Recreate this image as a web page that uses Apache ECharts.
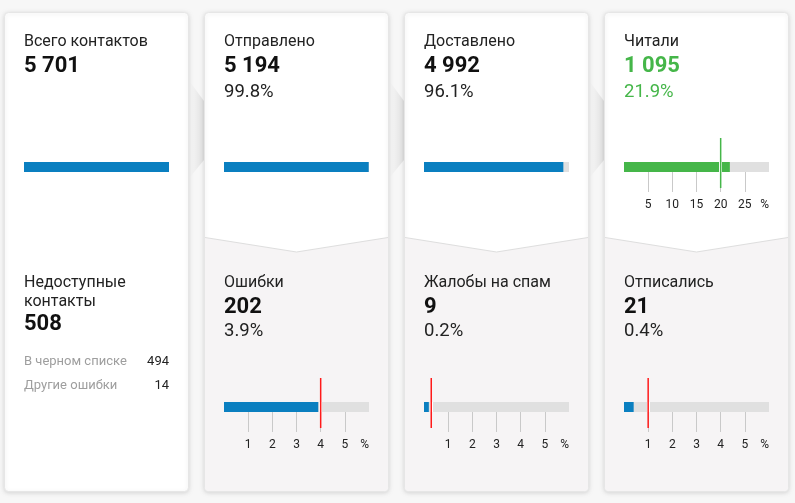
<!DOCTYPE html>
<html><head><meta charset="utf-8">
<script src="https://cdn.jsdelivr.net/npm/echarts@6/dist/echarts.min.js"></script>
<style>html,body{margin:0;padding:0;background:#f7f7f7}#c{width:795px;height:503px}</style>
</head><body><div id="c"></div>
<script>
// ---- data ----
const stageTitles = ['Всего контактов', 'Отправлено', 'Доставлено', 'Читали'];
const stageCounts = [5701, 5194, 4992, 1095];
const stagePercents = [null, 99.8, 96.1, 21.9];
const readBenchmark = 20;
const readTicks = [5, 10, 15, 20, 25];
const readAxisMax = 30;

const issueTitles = ['Ошибки', 'Жалобы на спам', 'Отписались'];
const issueCounts = [202, 9, 21];
const issuePercents = [3.9, 0.2, 0.4];
const issueBenchmarks = [4, 0.3, 1];
const issueTicks = [1, 2, 3, 4, 5];
const issueAxisMax = 6;

const unavailableTitle = ['Недоступные', 'контакты'];
const unavailableTotal = 508;
const breakdownLabels = ['В черном списке', 'Другие ошибки'];
const breakdownValues = [494, 14];

// ---- layout / style ----
const FONT = 'Roboto';
const BLUE = '#0a7fc0', GREEN = '#45b649', RED = '#ff1a1a', TRACK = '#e0e0e0';
const cardLeft = [4, 204, 404, 604], cardW = 185, cardTop = 12, cardBottom = 492;
const fmt = n => String(n).replace(/\B(?=(\d{3})+(?!\d))/g, ' ');
const pct = p => p.toFixed(1) + '%';

const grids = [], xAxes = [], yAxes = [], series = [], graphics = [];

function addBar(o) {
  const gi = grids.length;
  grids.push({left: o.left, top: o.top, width: 145, height: 10});
  const hasTicks = !!o.ticks;
  xAxes.push({
    type: 'value', gridIndex: gi, min: 0, max: o.max, z: 8,
    splitLine: {show: false}, axisLine: {show: false},
    axisTick: hasTicks ? {show: true, customValues: o.ticks, length: 20, lineStyle: {color: '#c9c9c9', width: 1}} : {show: false},
    axisLabel: hasTicks ? {
      show: true, customValues: o.ticks.concat([o.max]),
      formatter: v => v === o.max ? '%' : String(v),
      margin: 27, color: '#222', fontSize: 12, fontFamily: FONT, alignMaxLabel: 'right'
    } : {show: false}
  });
  yAxes.push({type: 'category', gridIndex: gi, data: [''], show: false});
  const s = {
    type: 'bar', xAxisIndex: gi, yAxisIndex: gi, data: [o.value], barWidth: 10,
    itemStyle: {color: o.color}, showBackground: o.track !== false,
    backgroundStyle: {color: TRACK}, silent: true, animation: false, z: 3
  };
  if (o.marker != null) {
    s.markLine = {silent: true, symbol: 'none', label: {show: false}, animation: false,
      lineStyle: {color: '#fff', width: 3, type: 'solid'}, data: [{xAxis: o.marker}]};
    const mi = grids.length;
    grids.push({left: o.left, top: o.top - 24, width: 145, height: 50});
    xAxes.push({type: 'value', gridIndex: mi, min: 0, max: o.max, show: false});
    yAxes.push({type: 'value', gridIndex: mi, min: 0, max: 1, show: false});
    series.push({type: 'line', xAxisIndex: mi, yAxisIndex: mi, data: [[o.marker, 0], [o.marker, 1]],
      symbol: 'none', lineStyle: {color: o.markerColor, width: 1.5}, z: 9, silent: true, animation: false});
  }
  series.push(s);
}

function text(t, x, y, size, color, weight, align) {
  graphics.push({type: 'text', z: 20, silent: true, style: {
    text: t, x: x, y: y, fill: color, align: align || 'left', verticalAlign: 'middle',
    font: (weight || 'normal') + ' ' + size + 'px ' + FONT
  }});
}

// gap chevron shadows
for (let i = 0; i < 3; i++) {
  const xL = cardLeft[i] + cardW, xR = cardLeft[i + 1];
  graphics.push({type: 'polygon', z: 0, silent: true,
    shape: {points: [[xL + 1, 82], [xR, 101], [xR, 160], [xL + 1, 177]]},
    style: {fill: new echarts.graphic.LinearGradient(0, 0, 1, 0, [
      {offset: 0, color: 'rgba(0,0,0,0.0)'}, {offset: 1, color: 'rgba(0,0,0,0.09)'}])}});
}

// cards
cardLeft.forEach((L, i) => {
  graphics.push({type: 'rect', z: 1, silent: true,
    shape: {x: L + 0.5, y: cardTop + 0.5, width: cardW - 1, height: cardBottom - cardTop - 1, r: 4},
    style: {fill: '#fff', stroke: '#e6e6e6', lineWidth: 1,
      shadowBlur: 4, shadowColor: 'rgba(0,0,0,0.13)', shadowOffsetY: 1}});
  if (i > 0) {
    graphics.push({type: 'rect', z: 2, silent: true,
      shape: {x: L + 1, y: 238, width: cardW - 2, height: cardBottom - 238 - 1, r: [0, 0, 4, 4]},
      style: {fill: '#f6f4f5'}});
    graphics.push({type: 'polygon', z: 2, silent: true,
      shape: {points: [[L + 1, 237.5], [L + cardW / 2, 252], [L + cardW - 1, 237.5]]},
      style: {fill: '#fff'}});
    graphics.push({type: 'polyline', z: 2, silent: true,
      shape: {points: [[L + 1, 237.5], [L + cardW / 2, 252], [L + cardW - 1, 237.5]]},
      style: {stroke: '#dedede', lineWidth: 1, fill: null}});
  }
});

// top row texts + bars
stageTitles.forEach((t, i) => {
  const x = cardLeft[i] + 20;
  const col = i === 3 ? GREEN : '#111';
  text(t, x, 42, 16, '#222');
  text(fmt(stageCounts[i]), x, 66.5, 22, col, 'bold');
  if (stagePercents[i] != null) text(pct(stagePercents[i]), x, 92, 18.5, i === 3 ? GREEN : '#222');
});
addBar({left: cardLeft[0] + 20, top: 162, max: stageCounts[0], value: stageCounts[0], color: BLUE, track: false});
addBar({left: cardLeft[1] + 20, top: 162, max: 100, value: stagePercents[1], color: BLUE});
addBar({left: cardLeft[2] + 20, top: 162, max: 100, value: stagePercents[2], color: BLUE});
addBar({left: cardLeft[3] + 20, top: 162, max: readAxisMax, value: stagePercents[3], color: GREEN,
  ticks: readTicks, marker: readBenchmark, markerColor: GREEN});

// card 1 lower
text(unavailableTitle[0], 24, 282.5, 16, '#222');
text(unavailableTitle[1], 24, 301.5, 16, '#222');
text(fmt(unavailableTotal), 24, 324.5, 22, '#111', 'bold');
breakdownLabels.forEach((l, k) => {
  const y = 362 + k * 23.5;
  text(l, 24, y, 13, '#9e9e9e');
  text(String(breakdownValues[k]), 169, y, 13, '#222', 'normal', 'right');
});

// lower issue cards
issueTitles.forEach((t, k) => {
  const i = k + 1, x = cardLeft[i] + 20;
  text(t, x, 282.5, 16, '#222');
  text(fmt(issueCounts[k]), x, 307, 22, '#111', 'bold');
  text(pct(issuePercents[k]), x, 331.5, 18.5, '#222');
  addBar({left: x, top: 402, max: issueAxisMax, value: issuePercents[k], color: BLUE,
    ticks: issueTicks, marker: issueBenchmarks[k], markerColor: RED});
});

const chart = echarts.init(document.getElementById('c'), null, {renderer: 'canvas'});
chart.setOption({
  backgroundColor: '#f7f7f7',
  animation: false,
  grid: grids, xAxis: xAxes, yAxis: yAxes, series: series,
  graphic: {elements: graphics}
});
</script></body></html>
